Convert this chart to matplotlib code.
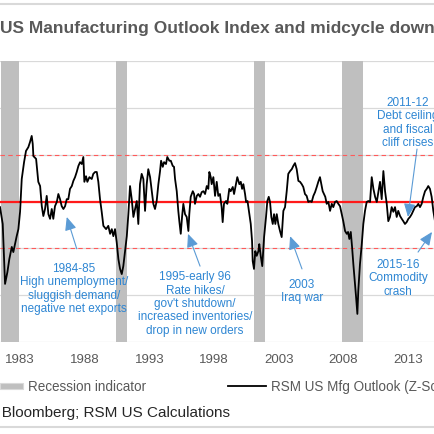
"""RSM US Manufacturing Outlook Index (Z-score) with recession bands and midcycle downturn notes"""

import matplotlib
matplotlib.use("Agg")
import matplotlib.pyplot as plt
from matplotlib.lines import Line2D
from matplotlib.patches import Rectangle

# ---- data ----
years = [
    1981.45, 1981.66, 1981.76, 1981.84, 1982.02, 1982.17, 1982.36, 1982.48, 1982.61, 1982.74,
    1982.87, 1983.00, 1983.13, 1983.31, 1983.46, 1983.64, 1983.77, 1983.90, 1983.98, 1984.03,
    1984.24, 1984.41, 1984.55, 1984.68, 1984.80, 1984.93, 1985.06, 1985.19, 1985.32, 1985.45,
    1985.57, 1985.70, 1985.84, 1985.96, 1986.09, 1986.22, 1986.35, 1986.48, 1986.61, 1986.73,
    1986.86, 1987.00, 1987.12, 1987.25, 1987.38, 1987.51, 1987.64, 1987.77, 1987.89, 1987.97,
    1988.10, 1988.20, 1988.36, 1988.54, 1988.66, 1988.80, 1988.93, 1989.05, 1989.18, 1989.31,
    1989.44, 1989.65, 1989.82, 1989.96, 1990.09, 1990.21, 1990.34, 1990.47, 1990.60, 1990.73,
    1990.86, 1990.98, 1991.11, 1991.25, 1991.37, 1991.50, 1991.63, 1991.76, 1991.89, 1992.02,
    1992.14, 1992.27, 1992.40, 1992.53, 1992.66, 1992.79, 1992.91, 1993.05, 1993.18, 1993.30,
    1993.43, 1993.56, 1993.69, 1993.82, 1993.90, 1994.03, 1994.13, 1994.28, 1994.38, 1994.54,
    1994.65, 1994.80, 1994.90, 1994.98, 1995.11, 1995.23, 1995.31, 1995.42, 1995.52, 1995.62,
    1995.75, 1995.88, 1996.01, 1996.08, 1996.19, 1996.35, 1996.45, 1996.52, 1996.66, 1996.78,
    1996.91, 1997.04, 1997.17, 1997.30, 1997.43, 1997.55, 1997.63, 1997.74, 1997.81, 1997.94,
    1998.07, 1998.20, 1998.32, 1998.45, 1998.58, 1998.66, 1998.76, 1998.92, 1999.02, 1999.17,
    1999.28, 1999.44, 1999.54, 1999.69, 1999.79, 1999.95, 2000.06, 2000.16, 2000.26, 2000.39,
    2000.47, 2000.58, 2000.72, 2000.83, 2000.93, 2000.98, 2001.08, 2001.18, 2001.29, 2001.42,
    2001.49, 2001.60, 2001.72, 2001.86, 2002.01, 2002.11, 2002.22, 2002.32, 2002.42, 2002.53,
    2002.63, 2002.73, 2002.84, 2002.96, 2003.09, 2003.22, 2003.35, 2003.48, 2003.61, 2003.73,
    2003.87, 2004.00, 2004.12, 2004.25, 2004.38, 2004.51, 2004.64, 2004.77, 2004.89, 2005.02,
    2005.15, 2005.28, 2005.41, 2005.54, 2005.67, 2005.80, 2005.93, 2006.05, 2006.18, 2006.31,
    2006.39, 2006.49, 2006.59, 2006.70, 2006.83, 2006.96, 2007.09, 2007.21, 2007.34, 2007.47,
    2007.60, 2007.73, 2007.86, 2007.98, 2008.12, 2008.25, 2008.35, 2008.45, 2008.56, 2008.66,
    2008.76, 2008.89, 2008.97, 2009.07, 2009.14, 2009.27, 2009.41, 2009.53, 2009.66, 2009.79,
    2009.92, 2010.05, 2010.18, 2010.31, 2010.44, 2010.57, 2010.69, 2010.82, 2010.95, 2011.08,
    2011.21, 2011.34, 2011.46, 2011.59, 2011.72, 2011.85, 2011.98, 2012.11, 2012.23, 2012.37,
    2012.50, 2012.62, 2012.75, 2012.88, 2013.01, 2013.14, 2013.27, 2013.39, 2013.52, 2013.66,
    2013.78, 2013.91, 2014.04, 2014.17, 2014.30, 2014.43, 2014.55, 2014.68, 2014.81, 2014.94,
    2015.07, 2015.20,
]
mfg_outlook = [
    -0.12, -0.48, -1.19, -1.76, -1.51, -1.23, -0.97, -1.08, -0.91, -0.74,
    -0.59, -0.22, 0.48, 0.84, 1.08, 1.16, 1.27, 1.40, 1.23, 0.97,
    0.91, 0.42, 0.33, -0.10, -0.31, -0.16, 0.12, -0.27, -0.37, -0.16,
    -0.37, -0.10, -0.01, 0.16, 0.05, -0.10, -0.16, -0.10, 0.05, 0.05,
    0.27, 0.33, 0.44, 0.52, 0.63, 0.76, 0.84, 0.80, 0.95, 0.42,
    0.54, 0.42, 0.52, 0.48, 0.59, 0.63, 0.63, 0.42, 0.05, -0.22,
    -0.52, -0.59, -0.52, -0.69, -0.59, -0.74, -0.59, -0.87, -1.23, -1.44,
    -1.55, -1.38, -1.08, -0.74, -0.27, 0.33, 0.05, -0.33, -0.16, 0.01,
    -0.48, 0.37, 0.59, 0.48, -0.20, 0.37, 0.69, 0.52, 0.22, -0.05,
    -0.16, 0.01, 0.37, 0.65, 0.87, 0.74, 0.84, 0.80, 0.95, 0.87,
    0.87, 0.76, 0.74, 0.48, 0.22, -0.20, -0.42, -0.69, -0.33, -0.05,
    -0.27, -0.33, -0.63, -0.27, 0.10, 0.22, 0.16, -0.05, 0.12, 0.16,
    0.10, 0.20, 0.22, 0.16, 0.33, 0.27, 0.63, 0.52, 0.37, 0.52,
    0.12, 0.42, 0.12, 0.16, -0.12, -0.44, -0.05, 0.01, -0.05, 0.27,
    0.22, 0.31, 0.16, 0.37, 0.52, 0.37, 0.42, 0.27, 0.37, 0.16,
    -0.01, 0.01, -0.27, -0.48, -0.84, -1.27, -1.44, -1.06, -1.16, -1.06,
    -0.91, -1.16, -1.38, -0.76, -0.33, 0.01, 0.10, -0.01, -0.33, -0.48,
    -0.27, -0.48, -0.27, -0.48, -0.63, -0.76, -0.20, -0.12, 0.22, 0.59,
    0.65, 0.69, 0.76, 0.82, 0.69, 0.44, 0.42, 0.37, 0.31, 0.16,
    0.12, -0.01, 0.01, -0.01, 0.12, 0.20, 0.31, 0.42, 0.52, 0.33,
    0.22, 0.16, 0.10, -0.05, -0.01, -0.20, -0.05, -0.12, -0.01, 0.01,
    -0.05, -0.10, -0.27, -0.42, -0.63, -0.69, -0.65, -0.80, -0.65, -0.97,
    -1.34, -1.76, -2.04, -2.40, -1.91, -1.34, -0.91, -0.48, -0.20, -0.01,
    0.01, -0.01, 0.52, 0.27, 0.10, -0.01, 0.20, 0.42, 0.05, 0.65,
    0.22, -0.05, -0.42, -0.33, -0.12, -0.22, -0.12, -0.33, -0.20, -0.31,
    -0.37, -0.42, -0.48, -0.44, -0.37, -0.33, -0.27, -0.20, -0.12, -0.10,
    -0.05, -0.12, -0.05, 0.10, 0.22, 0.27, 0.33, 0.27, 0.10, -0.20,
    -0.42, -0.55,
]

recession_start = [1981.50, 1990.42, 2001.08, 2007.86]
recession_end = [1982.92, 1991.27, 2001.93, 2009.51]

tick_years = [1983, 1988, 1993, 1998, 2003, 2008, 2013]

# (text, text position, arrow tail, arrow tip)
notes = [
    ("1984-85\nHigh unemployment/\nsluggish demand/\nnegative net exports",
     (1987.17, -1.85), (1987.38, -1.01), (1986.61, -0.33)),
    ("1995-early 96\nRate hikes/\ngov't shutdown/\nincreased inventories/\ndrop in new orders",
     (1996.52, -2.17), (1996.91, -1.38), (1995.98, -0.69)),
    ("2003\nIraq war",
     (2004.79, -1.90), (2004.79, -1.44), (2003.87, -0.74)),
    ("2015-16\nCommodity\ncrash",
     (2012.21, -1.62), (2013.76, -1.08), (2014.84, -0.65)),
    ("2011-12\nDebt ceiling\nand fiscal\ncliff crises",
     (2012.95, 1.70), (2013.68, 1.12), (2012.98, -0.33)),
]

# ---- styling ----
W = 435.0
plt.rcParams["font.family"] = ["Liberation Sans", "DejaVu Sans"]
grid_grey = "#D9D9D9"
band_grey = "#BFBFBF"
text_grey = "#595959"
note_blue = "#2E86D3"
arrow_blue = "#5B9BD5"

fig = plt.figure(figsize=(4.35, 4.35), dpi=100)
ax = fig.add_axes([0, (W - 343) / W, 1, 281 / W])

ax.set_xlim(1981.45, 2015.07)
ax.set_ylim(-3, 3)

for start, end in zip(recession_start, recession_end):
    ax.axvspan(start, end, color=band_grey, lw=0, zorder=1)

ax.axhline(0, color="#FF1A1A", lw=1.6, zorder=2)
for lev in (1, -1):
    ax.axhline(lev, color="#FF5A5A", lw=0.8, ls=(0, (4, 3)), zorder=2)

ax.plot(years, mfg_outlook, color="black", lw=1.3, zorder=3)

ax.set_yticks([-3, -2, -1, 0, 1, 2, 3])
ax.set_yticklabels([])
ax.grid(axis="y", color=grid_grey, lw=0.9, zorder=0)
ax.set_axisbelow(True)
ax.tick_params(axis="y", length=0)
ax.set_xticks(tick_years)
ax.set_xticklabels([str(y) for y in tick_years])
ax.tick_params(axis="x", length=0, pad=8, labelsize=9.5, labelcolor=text_grey)
for side in ("left", "right", "top", "bottom"):
    ax.spines[side].set_visible(False)

for text, pos, tail, tip in notes:
    ax.text(pos[0], pos[1], text, ha="center", va="center", fontsize=8.5,
            color=note_blue, linespacing=1.15, zorder=4)
    ax.annotate("", xy=tip, xytext=tail,
                arrowprops=dict(arrowstyle="-|>,head_length=0.8,head_width=0.35",
                                color=arrow_blue, lw=0.8, shrinkA=0, shrinkB=0),
                zorder=4)

# title, frame lines, legend and source
fig.text(0, 1 - 28 / W, "US Manufacturing Outlook Index and midcycle downturns",
         ha="left", va="center", fontsize=12.5, fontweight="bold", color=text_grey)
for yy in (5, 428):
    fig.add_artist(Line2D([0, 1], [1 - yy / W, 1 - yy / W], color=grid_grey, lw=1.5,
                          transform=fig.transFigure))

fig.add_artist(Rectangle((0, 1 - 390 / W), 23 / W, 6 / W, transform=fig.transFigure,
                         facecolor=band_grey, edgecolor=grid_grey, lw=0.8))
fig.text(28 / W, 1 - 387 / W, "Recession indicator", ha="left", va="center",
         fontsize=9.75, color=text_grey)
fig.add_artist(Line2D([228 / W, 266 / W], [1 - 387 / W, 1 - 387 / W], color="black",
                      lw=1.3, transform=fig.transFigure))
fig.text(271 / W, 1 - 387 / W, "RSM US Mfg Outlook (Z-Score)", ha="left", va="center",
         fontsize=9.75, color=text_grey)

fig.text(230 / W, 1 - 413 / W, "Source: Bloomberg; RSM US Calculations", ha="right",
         va="center", fontsize=11, color="#262626")

fig.savefig("out.png", dpi=100)
